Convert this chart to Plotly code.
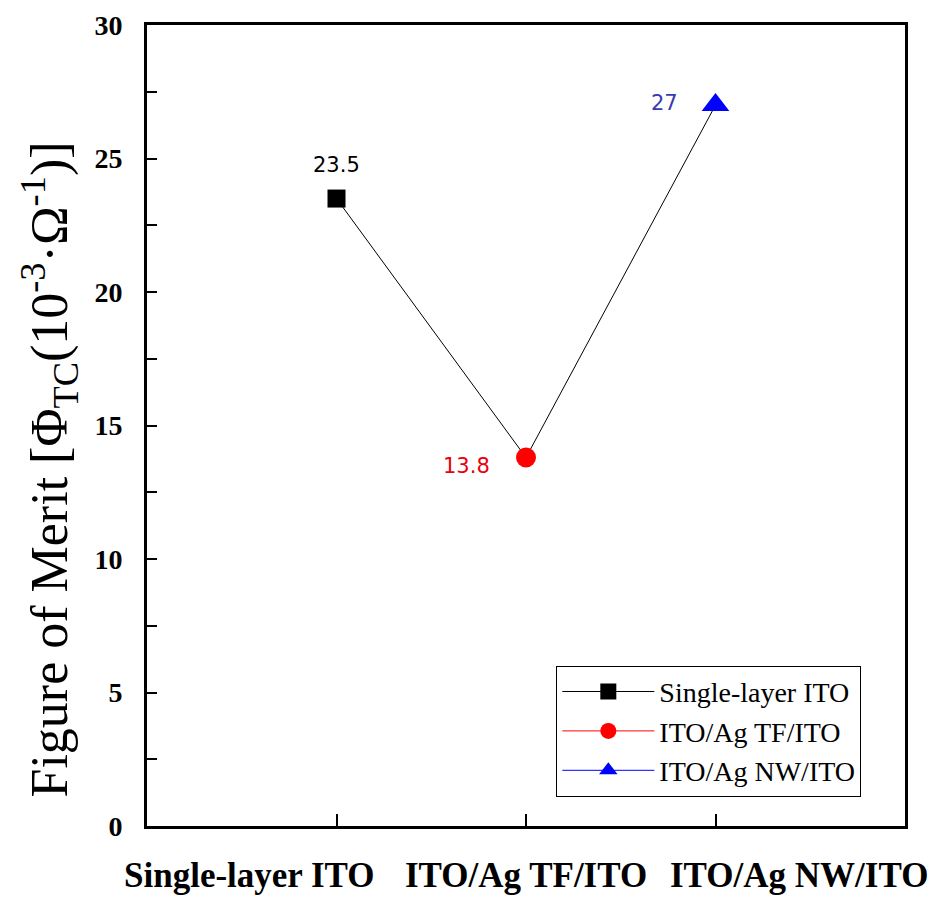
import plotly.graph_objects as go

categories = ["Single-layer ITO", "ITO/Ag TF/ITO", "ITO/Ag NW/ITO"]
values = [23.5, 13.8, 27]
labels = ["23.5", "13.8", "27"]
colors = ["#000000", "#ff0000", "#0000ff"]
label_colors = ["#000000", "#e8000b", "#3a3ab0"]
symbols = ["square", "circle", "triangle-up"]
sizes = [18, 20, 24]
y_ticks = [0, 5, 10, 15, 20, 25, 30]

xpos = list(range(len(categories)))

fig = go.Figure()
fig.add_trace(go.Scatter(x=xpos, y=values, mode="lines",
                         line=dict(color="black", width=1), showlegend=False,
                         hoverinfo="skip"))
for i, c in enumerate(categories):
    fig.add_trace(go.Scatter(x=[xpos[i]], y=[values[i]], mode="lines+markers", name=c,
                             line=dict(color=colors[i], width=1),
                             marker=dict(symbol=symbols[i], size=sizes[i], color=colors[i])))

# value labels
ann = [dict(xshift=0, yshift=20, xanchor="center", yanchor="bottom"),
       dict(xshift=-34, yshift=-8, xanchor="right", yanchor="middle"),
       dict(xshift=-36, yshift=2, xanchor="right", yanchor="middle")]
for i in range(len(categories)):
    fig.add_annotation(x=xpos[i], y=values[i], text=labels[i], showarrow=False,
                       font=dict(family="DejaVu Sans", size=21, color=label_colors[i]),
                       **ann[i])

# category labels below the axis (spread as in reference)
cat_shift = [-87, 0, 83]
for i, c in enumerate(categories):
    fig.add_annotation(x=xpos[i], y=0, yref="y", text=f"<b>{c}</b>", showarrow=False,
                       xshift=cat_shift[i], yshift=-49, xanchor="center", yanchor="middle",
                       font=dict(family="Liberation Serif", size=35, color="black"))

# y-axis title as annotation (positioned as in reference)
fig.add_annotation(xref="paper", yref="paper", x=-0.128, y=0.445, textangle=-90,
                   text="Figure of Merit [Φ<sub>TC</sub>(10<sup>-3</sup>·Ω<sup>-1</sup>)]",
                   showarrow=False, xanchor="center", yanchor="middle",
                   font=dict(family="Liberation Serif", size=52, color="black"))

fig.update_layout(
    width=939, height=897,
    margin=dict(l=139, r=42, t=17, b=79, autoexpand=False),
    plot_bgcolor="white", paper_bgcolor="white",
    font=dict(family="Liberation Serif", color="black"),
    legend=dict(x=0.54, y=0.2, xanchor="left", yanchor="top",
                bordercolor="black", borderwidth=1, bgcolor="white",
                font=dict(family="Liberation Serif", size=28), itemwidth=92,
                tracegroupgap=0),
)
fig.update_xaxes(range=[-1, 3], tickmode="array", tickvals=xpos,
                 ticktext=["" for c in categories], automargin=False,
                 ticks="inside", ticklen=12, tickwidth=2, tickcolor="black",
                 showline=True, linewidth=3, linecolor="black", mirror=True,
                 showgrid=False, zeroline=False)
fig.update_yaxes(range=[0, 30], tickmode="array", tickvals=y_ticks,
                 ticktext=[f"<b>{v}</b>" for v in y_ticks], automargin=False,
                 ticks="inside", ticklen=10, tickwidth=2, tickcolor="black",
                 minor=dict(dtick=2.5, ticks="inside", ticklen=10, tickwidth=2, tickcolor="black"),
                 showline=True, linewidth=3, linecolor="black", mirror=True,
                 showgrid=False, zeroline=False, ticklabelstandoff=16,
                 tickfont=dict(family="Liberation Serif", size=28))

fig.write_html("out.html")
